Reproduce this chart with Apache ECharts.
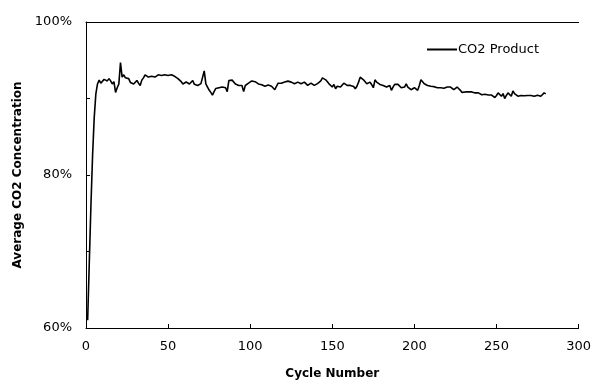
<!DOCTYPE html>
<html>
<head>
<meta charset="utf-8">
<script src="https://cdn.jsdelivr.net/npm/echarts@6/dist/echarts.min.js"></script>
<style>html,body{margin:0;padding:0;background:#fff;}#chart{width:594px;height:385px;}</style>
</head>
<body>
<div id="chart"></div>
<script>
// Average CO2 concentration (%) per cycle, starting at cycle 1
const firstCycle = 1;
const co2Product = [
  61.0, 68.5, 76.0, 82.5, 87.5, 90.6, 91.9, 92.4, 92.0, 92.2,
  92.5, 92.7, 92.3, 92.6, 92.3, 91.9, 92.2, 90.8, 91.4, 91.9,
  94.7, 92.8, 93.1, 92.7, 92.9, 92.6, 92.1, 92.3, 91.9, 92.0,
  92.35, 92.0, 91.7, 92.4, 92.7, 93.1, 92.9, 92.8, 93.0, 92.9,
  93.0, 92.8, 92.9, 93.1, 93.2, 93.0, 93.0, 93.1, 93.2, 93.0,
  93.0, 93.1, 93.2, 92.9, 92.7, 92.6, 92.55, 92.2, 91.9, 92.0,
  92.15, 92.0, 91.9, 92.1, 92.35, 91.85, 92.0, 91.7, 91.9, 91.95,
  92.2, 93.6, 91.9, 91.5, 91.1, 90.8, 90.45, 90.9, 91.3, 91.5,
  91.4, 91.3, 91.5, 91.7, 91.4, 90.9, 92.35, 92.2, 92.4, 92.3,
  91.9, 92.0, 91.7, 91.5, 91.7, 90.9, 91.7, 91.9, 92.0, 92.15,
  92.3, 92.35, 92.2, 92.1, 91.9, 91.7, 91.8, 91.9, 91.6, 91.7,
  91.75, 91.7, 91.6, 91.5, 91.15, 91.6, 92.0, 91.9, 92.0, 92.05,
  92.15, 92.1, 92.27, 92.2, 92.14, 92.0, 91.92, 92.05, 92.14, 92.0,
  91.92, 92.05, 92.14, 91.9, 91.71, 91.85, 92.0, 91.8, 91.71, 91.85,
  91.95, 91.92, 92.3, 92.69, 92.5, 92.44, 92.2, 91.92, 91.7, 91.5,
  91.84, 91.28, 91.6, 91.71, 91.5, 91.6, 92.0, 91.8, 91.71, 91.65,
  91.71, 91.6, 91.58, 91.28, 91.6, 92.14, 92.78, 92.6, 92.44, 92.2,
  91.92, 92.0, 92.14, 91.8, 91.41, 92.44, 92.14, 92.0, 91.84, 91.75,
  91.71, 91.6, 91.5, 91.28, 91.71, 91.07, 91.5, 91.84, 91.8, 91.84,
  91.71, 91.4, 91.15, 91.5, 91.92, 91.5, 91.3, 91.15, 91.3, 91.41,
  91.2, 91.07, 91.71, 92.44, 92.2, 91.92, 91.84, 91.7, 91.58, 91.6,
  91.5, 91.55, 91.58, 91.4, 91.28, 91.4, 91.5, 91.35, 91.28, 91.5,
  91.71, 91.5, 91.4, 91.15, 91.3, 91.5, 91.3, 91.07, 90.8, 90.56,
  90.86, 90.8, 90.86, 90.9, 90.86, 90.8, 90.73, 90.75, 90.73, 90.64,
  90.5, 90.43, 90.55, 90.64, 90.45, 90.3, 90.45, 90.56, 90.13, 90.4,
  90.73, 90.5, 90.3, 90.64, 90.0, 90.4, 90.73, 90.5, 90.3, 90.98,
  90.64, 90.5, 90.3, 90.43, 90.4, 90.3, 90.35, 90.43, 90.4, 90.3,
  90.4, 90.56, 90.3, 90.3, 90.43, 90.35, 90.3, 90.45, 90.73, 90.6
];
const seriesName = 'CO2 Product';
const xTitle = 'Cycle Number';
const yTitle = 'Average CO2 Concentration';
const yLabeled = [60, 80, 100];

const points = co2Product.map((v, i) => [firstCycle + i, v]);
const font = 'DejaVu Sans';

const chart = echarts.init(document.getElementById('chart'), null, {renderer: 'canvas'});
chart.setOption({
  animation: false,
  backgroundColor: '#fff',
  grid: {left: 86, top: 22, right: 15, bottom: 51},
  legend: {
    left: 422, top: 38,
    icon: 'rect',
    itemWidth: 30, itemHeight: 2, itemGap: 4,
    itemStyle: {color: '#000', borderWidth: 0},
    textStyle: {fontFamily: font, fontSize: 13, color: '#000', padding: [0,0,0,-4]},
    data: [seriesName]
  },
  xAxis: [{
    type: 'value', min: 0, max: 300, interval: 50,
    name: xTitle, nameLocation: 'middle', nameGap: 40,
    nameTextStyle: {fontFamily: font, fontSize: 12, fontWeight: 'bold', color: '#000'},
    axisLine: {lineStyle: {color: '#000', width: 1}},
    axisTick: {inside: true, length: 4, lineStyle: {color: '#000'}},
    axisLabel: {fontFamily: font, fontSize: 13, color: '#000', margin: 12},
    splitLine: {show: false}
  }, {
    type: 'value', min: 0, max: 300, position: 'top',
    axisLine: {show: true, onZero: false, lineStyle: {color: '#000', width: 1}},
    axisTick: {show: false}, axisLabel: {show: false}, splitLine: {show: false}
  }],
  yAxis: {
    type: 'value', min: 60, max: 100, interval: 10,
    name: yTitle, nameLocation: 'middle', nameGap: 62,
    nameTextStyle: {fontFamily: font, fontSize: 12, fontWeight: 'bold', color: '#000'},
    axisLine: {show: true, lineStyle: {color: '#000', width: 1}},
    axisTick: {show: true, inside: true, length: 4, lineStyle: {color: '#000'}},
    axisLabel: {fontFamily: font, fontSize: 13, color: '#000', margin: 14,
      formatter: v => yLabeled.includes(v) ? v + '%' : ''},
    splitLine: {show: false}
  },
  series: [{
    name: seriesName, type: 'line', xAxisIndex: 0,
    data: points, symbol: 'none', smooth: false,
    lineStyle: {color: '#000', width: 1.6},
    itemStyle: {color: '#000'}
  }]
});
</script>
</body>
</html>
